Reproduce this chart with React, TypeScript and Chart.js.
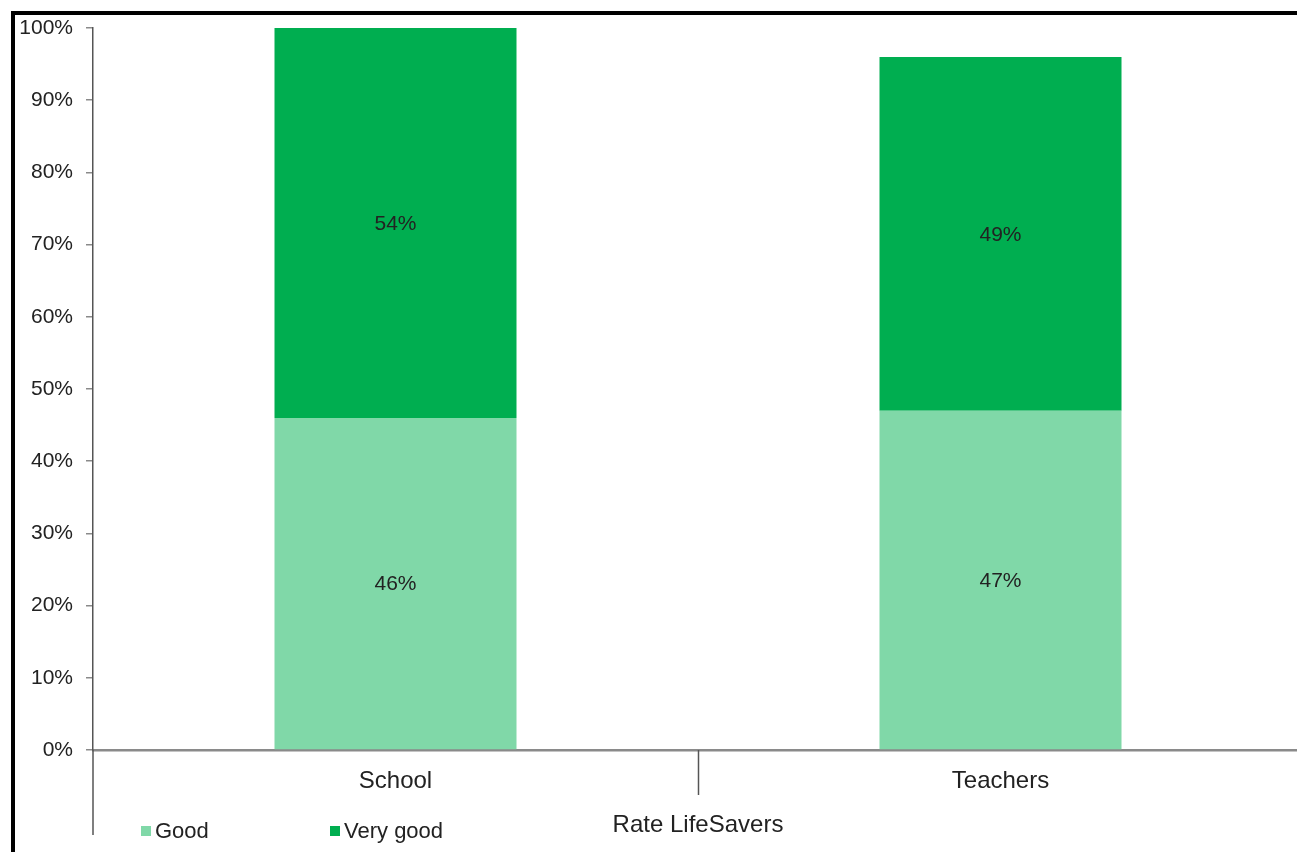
import React, { useEffect, useRef } from "react";
import { Chart, registerables } from "chart.js";
Chart.register(...registerables);

const categories = ["School", "Teachers"];
const seriesLabels = ["Good", "Very good"];
const goodValues = [46, 47];
const veryGoodValues = [54, 49];
const yTickStep = 10;
const axisTitle = "Rate LifeSavers";

const FONT = "'Liberation Sans', Arial, sans-serif";
const TEXT = "#222222";
const AXIS = "#8a8a8a";
const COLORS = ["#80d8a8", "#00ae50"];

export default function App() {
  const ref = useRef<HTMLCanvasElement>(null);
  useEffect(() => {
    const custom = {
      id: "custom",
      afterDatasetsDraw(chart: any) {
        const ctx = chart.ctx;
        ctx.save();
        ctx.font = `21px ${FONT}`;
        ctx.fillStyle = TEXT;
        ctx.textAlign = "center";
        ctx.textBaseline = "middle";
        chart.data.datasets.forEach((ds: any, i: number) => {
          const meta = chart.getDatasetMeta(i);
          meta.data.forEach((el: any, j: number) => {
            const p = el.getCenterPoint();
            ctx.fillText(ds.data[j] + "%", p.x, p.y + 1);
          });
        });
        ctx.restore();
      },
      afterDraw(chart: any) {
        const ctx = chart.ctx;
        const area = chart.chartArea;
        ctx.save();
        ctx.strokeStyle = "#555";
        ctx.lineWidth = 1.5;
        // outer group boundary (left)
        ctx.beginPath();
        ctx.moveTo(area.left, area.bottom);
        ctx.lineTo(area.left, area.bottom + 85);
        ctx.stroke();
        // category separators
        const n = chart.data.labels.length;
        const w = (area.right - area.left) / n;
        for (let i = 1; i < n; i++) {
          const x = Math.round(area.left + w * i) + 0.5;
          ctx.beginPath();
          ctx.moveTo(x, area.bottom);
          ctx.lineTo(x, area.bottom + 45);
          ctx.stroke();
        }
        // legend
        const legendX = [141, 330];
        const legendY = 831;
        ctx.font = `22px ${FONT}`;
        ctx.textBaseline = "middle";
        ctx.textAlign = "left";
        chart.data.datasets.forEach((ds: any, i: number) => {
          ctx.fillStyle = ds.backgroundColor;
          ctx.fillRect(legendX[i], legendY - 5, 10, 10);
          ctx.fillStyle = TEXT;
          ctx.fillText(ds.label, legendX[i] + 14, legendY + 1);
        });
        ctx.restore();
      },
    };
    const chart = new Chart(ref.current as HTMLCanvasElement, {
      type: "bar",
      data: {
        labels: categories,
        datasets: [
          { label: seriesLabels[0], data: goodValues, backgroundColor: COLORS[0] },
          { label: seriesLabels[1], data: veryGoodValues, backgroundColor: COLORS[1] },
        ],
      },
      options: {
        responsive: false,
        animation: false,
        devicePixelRatio: 1,
        layout: { padding: { top: 28, right: 7, left: 0, bottom: 0 } },
        datasets: { bar: { categoryPercentage: 1, barPercentage: 0.4 } },
        plugins: { legend: { display: false }, tooltip: { enabled: false } },
        scales: {
          x: {
            stacked: true,
            grid: { display: false, drawTicks: false },
            border: { display: true, color: AXIS, width: 2.5 },
            ticks: { font: { family: FONT, size: 24 }, color: TEXT, padding: 17 },
            title: {
              display: true,
              text: axisTitle,
              font: { family: FONT, size: 24 },
              color: TEXT,
              padding: { top: 0, bottom: 12 },
            },
            afterFit(scale: any) {
              scale.height = 102;
            },
          },
          y: {
            stacked: true,
            min: 0,
            max: 100,
            ticks: {
              stepSize: yTickStep,
              callback: (v: any) => v + "%",
              font: { family: FONT, size: 21 },
              color: TEXT,
              padding: 13,
            },
            grid: { drawOnChartArea: false, drawTicks: true, tickLength: 7, color: AXIS, lineWidth: 1.5 },
            border: { color: "#555", width: 1.5 },
            afterFit(scale: any) {
              scale.width = 93;
            },
          },
        },
      },
      plugins: [custom],
    });
    return () => chart.destroy();
  }, []);

  return (
    <div
      style={{
        position: "fixed",
        left: 0,
        top: 0,
        width: 1297,
        height: 852,
        overflow: "hidden",
        background: "#fff",
      }}
    >
      <canvas ref={ref} width={1310} height={852} style={{ position: "absolute", left: 0, top: 0, width: 1310, height: 852 }} />
      <div
        style={{
          position: "absolute",
          left: 11,
          top: 11,
          width: 1400,
          height: 900,
          borderLeft: "4px solid #000",
          borderTop: "4px solid #000",
          boxSizing: "border-box",
          pointerEvents: "none",
        }}
      />
    </div>
  );
}
